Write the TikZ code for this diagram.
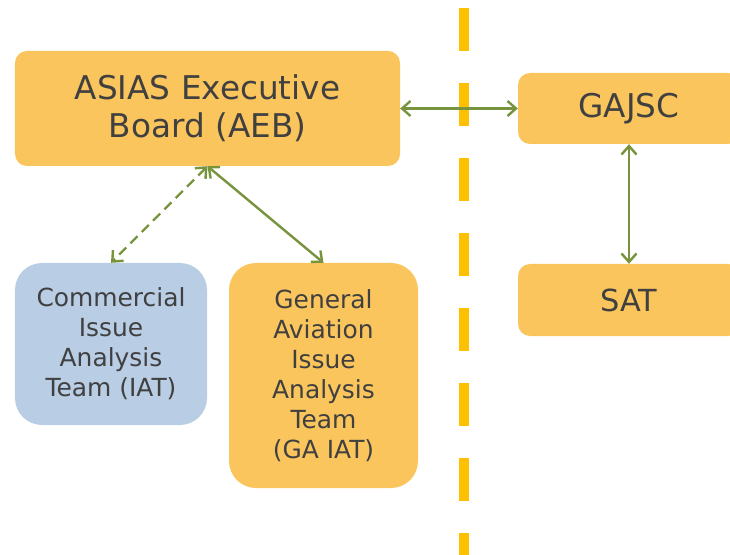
\documentclass[tikz,border=0pt]{standalone}
\usepackage{fontspec}
\setmainfont{DejaVu Sans}
\usetikzlibrary{arrows.meta}

\definecolor{boxgold}{HTML}{FAC55C}
\definecolor{boxblue}{HTML}{B9CDE5}
\definecolor{linkgreen}{HTML}{77933C}
\definecolor{dividergold}{HTML}{FFC000}
\definecolor{labelgray}{HTML}{404040}

\begin{document}
\begin{tikzpicture}[x=1bp, y=-1bp,
    board/.style={fill=boxgold, rounded corners=12bp, text=labelgray, align=center,
        inner sep=0pt, font=\fontsize{32.8}{38.5}\selectfont},
    team/.style={rounded corners=27bp, text=labelgray, align=center,
        inner sep=0pt, font=\fontsize{25}{30}\selectfont},
    link/.style={linkgreen, line width=2.4bp,
        {Straight Barb[length=8.5bp,width=15bp]}-{Straight Barb[length=8.5bp,width=15bp]}}]
    \clip (0,0) rectangle (730,555);

    % --- Linha divisória ---
    \draw[dividergold, line width=10bp, dash pattern=on 43bp off 32bp] (464,8) -- (464,560);

    % --- Lado esquerdo: AEB e equipes ---
    \node[board, minimum width=385bp, minimum height=115bp] (aeb) at (207.5,108.5)
        {ASIAS Executive\\Board (AEB)};
    \node[team, fill=boxblue, minimum width=192bp, minimum height=162bp] (ciat) at (111,344)
        {Commercial\\Issue\\Analysis\\Team (IAT)};
    \node[team, fill=boxgold, minimum width=189bp, minimum height=225bp] (gaiat) at (323.5,375.5)
        {General\\Aviation\\Issue\\Analysis\\Team\\(GA IAT)};

    % --- Lado direito: GAJSC e SAT ---
    \node[board, minimum width=222bp, minimum height=71bp] (gajsc) at (629,108.5) {GAJSC};
    \node[board, minimum width=222bp, minimum height=72bp, font=\fontsize{30.5}{36}\selectfont] (sat) at (629,300) {SAT};

    % --- Ligações ---
    \draw[link] (aeb.east) -- (gajsc.west);
    \draw[link] (gajsc.south) -- (sat.north);
    \draw[link, dash pattern=on 10bp off 6bp] (aeb.south) -- (ciat.north);
    \draw[link] (aeb.south) -- (gaiat.north);
\end{tikzpicture}
\end{document}
